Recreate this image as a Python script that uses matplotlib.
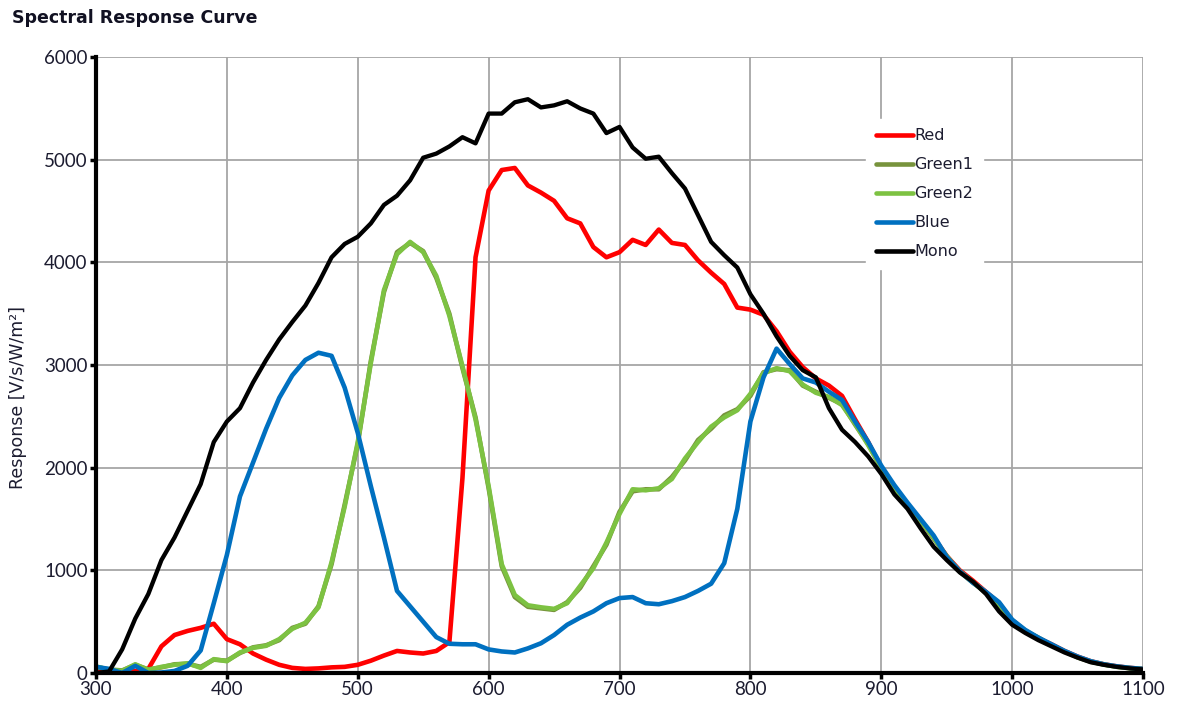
import matplotlib
matplotlib.use("Agg")
import matplotlib.pyplot as plt
import numpy as np

# Wavelength grid (nm) and per-channel response values [V/s/W/m²]
wavelength = list(range(300, 1101, 10))

mono = [0, 15, 230, 530, 770, 1100, 1320, 1580, 1840, 2250,
        2450, 2580, 2830, 3050, 3250, 3420, 3580, 3800, 4050, 4180,
        4250, 4380, 4560, 4650, 4800, 5020, 5060, 5130, 5220, 5160,
        5450, 5450, 5560, 5590, 5510, 5530, 5570, 5500, 5450, 5260,
        5320, 5120, 5010, 5030, 4870, 4720, 4460, 4200, 4070, 3950,
        3690, 3500, 3280, 3090, 2950, 2880, 2580, 2370, 2250, 2110,
        1940, 1740, 1600, 1410, 1230, 1100, 980, 890, 770, 600,
        470, 390, 320, 260, 200, 150, 105, 80, 60, 45,
        35]

red = [30, 20, 10, 20, 40, 260, 370, 410, 440, 480,
       330, 280, 190, 130, 80, 50, 40, 45, 55, 60,
       80, 120, 170, 215, 200, 190, 215, 300, 1900, 4050,
       4700, 4900, 4920, 4750, 4680, 4600, 4430, 4380, 4150, 4050,
       4100, 4220, 4170, 4320, 4190, 4170, 4020, 3900, 3790, 3560,
       3540, 3490, 3330, 3130, 2980, 2870, 2800, 2700, 2470, 2250,
       2000, 1790, 1640, 1480, 1320, 1140, 1000, 900, 790, 680,
       510, 410, 340, 280, 215, 160, 115, 85, 65, 50,
       40]

blue = [60, 40, 0, 70, 0, 5, 20, 70, 220, 680,
        1150, 1720, 2050, 2380, 2680, 2900, 3050, 3120, 3090, 2780,
        2340, 1820, 1320, 800, 650, 500, 350, 285, 280, 280,
        230, 210, 200, 240, 290, 370, 470, 540, 600, 680,
        730, 740, 680, 670, 700, 740, 800, 870, 1070, 1600,
        2450, 2880, 3160, 3010, 2870, 2830, 2740, 2660, 2450, 2250,
        2020, 1830, 1660, 1500, 1340, 1130, 990, 880, 790, 690,
        520, 420, 345, 280, 215, 160, 115, 85, 65, 50,
        40]

green2 = [65, 30, 20, 85, 30, 60, 80, 95, 50, 135,
          115, 200, 245, 265, 330, 430, 490, 640, 1080, 1620,
          2250, 3020, 3730, 4080, 4200, 4100, 3870, 3480, 2990, 2470,
          1820, 1060, 760, 660, 640, 625, 680, 850, 1020, 1270,
          1550, 1790, 1780, 1800, 1890, 2090, 2250, 2400, 2490, 2560,
          2720, 2920, 2970, 2940, 2810, 2730, 2690, 2610, 2430, 2220,
          2000, 1800, 1640, 1480, 1320, 1130, 990, 885, 780, 670,
          510, 415, 340, 275, 210, 155, 112, 82, 62, 48,
          38]

green1 = [60, 35, 25, 80, 35, 55, 85, 90, 60, 130,
          120, 195, 250, 270, 320, 440, 480, 650, 1060, 1640,
          2230, 3040, 3710, 4100, 4190, 4110, 3850, 3500, 2970, 2490,
          1800, 1040, 740, 645, 630, 615, 690, 830, 1040, 1250,
          1570, 1770, 1790, 1790, 1910, 2070, 2270, 2380, 2510, 2570,
          2700, 2930, 2960, 2950, 2800, 2740, 2680, 2620, 2420, 2230,
          1990, 1810, 1630, 1490, 1310, 1140, 985, 880, 785, 665,
          515, 410, 345, 270, 212, 152, 110, 84, 60, 47,
          37]

series = [
    ("Red", red, "#ff0000"),
    ("Green1", green1, "#77933c"),
    ("Green2", green2, "#7dc242"),
    ("Blue", blue, "#0070c0"),
    ("Mono", mono, "#000000"),
]

x_ticks = [300, 400, 500, 600, 700, 800, 900, 1000, 1100]
y_ticks = [0, 1000, 2000, 3000, 4000, 5000, 6000]

fig = plt.figure(figsize=(11.85, 7.14), dpi=100)
ax = fig.add_axes([0.081, 0.0574, 0.8836, 0.8626])

for name, vals, color in series:
    lw = 3.1 if name == "Mono" else 3.3
    ax.plot(wavelength, vals, color=color, lw=lw, label=name,
            solid_joinstyle="round", solid_capstyle="round", zorder=3)

ax.set_xlim(300, 1100)
ax.set_ylim(0, 6000)
ax.set_xticks(x_ticks)
ax.set_yticks(y_ticks)
ax.grid(True, color="#a6a6a6", lw=1.3, zorder=0)
ax.set_axisbelow(True)

for side in ("top", "right"):
    ax.spines[side].set_visible(False)
for side in ("left", "bottom"):
    ax.spines[side].set_linewidth(3)
    ax.spines[side].set_color("black")
    ax.spines[side].set_zorder(4)

label_color = "#1c1c30"
ax.tick_params(axis="both", direction="out", length=4, width=2.5,
               color="black", labelsize=13.5, labelcolor=label_color, pad=2)
for lab in ax.get_xticklabels() + ax.get_yticklabels():
    lab.set_family("Lato")

ax.set_ylabel("Response [V/s/W/m²]", fontsize=12.5, color=label_color,
              family="DejaVu Sans")
ax.yaxis.set_label_coords(-0.066, 0.447)

fig.text(0.010, 0.975, "Spectral Response Curve", fontsize=12.5,
         fontweight="bold", color="#111122", family="DejaVu Sans",
         va="center", ha="left")

leg = ax.legend(loc="upper left", bbox_to_anchor=(0.728, 0.913),
                frameon=True, fancybox=False, framealpha=1.0,
                edgecolor="white", facecolor="white",
                prop={"family": "DejaVu Sans", "size": 11.5},
                handlelength=2.35, handletextpad=0.05, labelspacing=0.88,
                borderpad=0.6)
for line in leg.get_lines():
    line.set_linewidth(3.3)
for txt in leg.get_texts():
    txt.set_color(label_color)

fig.savefig("out.png", dpi=100)
